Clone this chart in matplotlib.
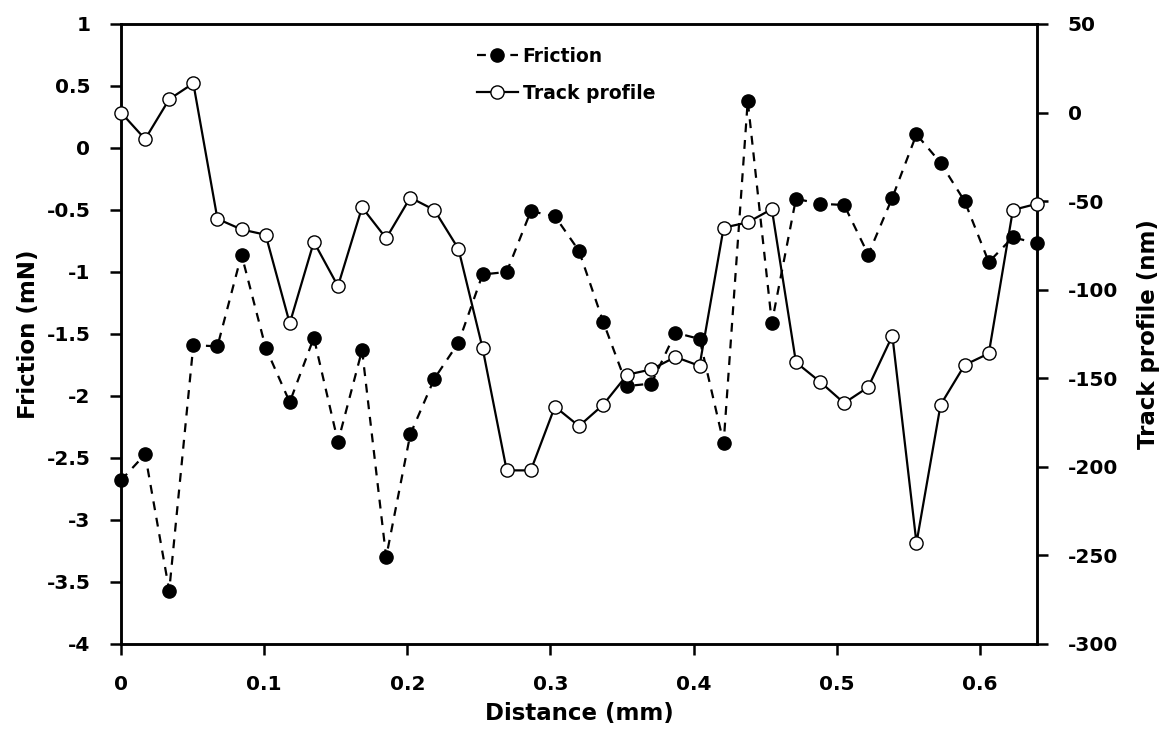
import numpy as np
import matplotlib
matplotlib.use("Agg")
import matplotlib.pyplot as plt
from matplotlib.lines import Line2D

plt.rcParams['font.family'] = ['DejaVu Sans']
plt.rcParams['font.weight'] = 'bold'
plt.rcParams['axes.unicode_minus'] = False

# sampling distance (mm), 39 points
distance = np.linspace(0, 0.64, 39)

friction = [-2.68, -2.47, -3.57, -1.59, -1.60, -0.86, -1.61, -2.05, -1.53, -2.37,
            -1.63, -3.30, -2.31, -1.86, -1.57, -1.02, -1.00, -0.51, -0.55, -0.83,
            -1.40, -1.92, -1.90, -1.49, -1.54, -2.38, 0.38, -1.41, -0.41, -0.45,
            -0.46, -0.86, -0.40, 0.11, -0.12, -0.43, -0.92, -0.72, -0.77]

track_profile = [0, -15, 7.5, 16.5, -60, -66, -69, -119, -73, -98,
                 -53.5, -71, -48, -55, -77, -133, -202, -202, -166, -177,
                 -165, -148, -145, -138, -143, -65, -62, -54.5, -141, -152,
                 -164, -155, -126, -243, -165, -142.5, -136, -55, -51.5]

x_ticks = [0, 0.1, 0.2, 0.3, 0.4, 0.5, 0.6]
x_ticklabels = ['0', '0.1', '0.2', '0.3', '0.4', '0.5', '0.6']
f_ticks = [-4, -3.5, -3, -2.5, -2, -1.5, -1, -0.5, 0, 0.5, 1]
f_ticklabels = ['-4', '-3.5', '-3', '-2.5', '-2', '-1.5', '-1', '-0.5', '0', '0.5', '1']
t_ticks = [-300, -250, -200, -150, -100, -50, 0, 50]

DASH = (0, (4, 3.5))

fig = plt.figure(figsize=(11.76, 7.42), dpi=100)
ax = fig.add_axes([0.1029, 0.1321, 0.7789, 0.8356])
ax2 = ax.twinx()

ax.plot(distance, friction, color='black', linestyle=DASH, linewidth=1.6,
        marker='o', markersize=9.5, markerfacecolor='black', markeredgecolor='black',
        clip_on=False, zorder=3)
ax2.plot(distance, track_profile, color='black', linestyle='-', linewidth=1.6,
         marker='o', markersize=9.5, markerfacecolor='white', markeredgecolor='black',
         markeredgewidth=1.0, clip_on=False, zorder=3)

ax.set_xlim(0, 0.64)
ax.set_ylim(-4, 1)
ax2.set_ylim(-300, 50)
ax.set_xticks(x_ticks)
ax.set_xticklabels(x_ticklabels)
ax.set_yticks(f_ticks)
ax.set_yticklabels(f_ticklabels)
ax2.set_yticks(t_ticks)

for a in (ax, ax2):
    for s in a.spines.values():
        s.set_linewidth(1.8)
    a.tick_params(direction='out', length=8, width=1.8, labelsize=14.5, pad=14)

ax.set_xlabel('Distance (mm)', fontsize=16.5, fontweight='bold', labelpad=6)
ax.set_ylabel('Friction (mN)', fontsize=16.5, fontweight='bold', labelpad=5)
ax2.set_ylabel('Track profile (nm)', fontsize=16.5, fontweight='bold', labelpad=14)

handles = [
    Line2D([], [], color='black', linestyle=DASH, linewidth=1.6, marker='o',
           markersize=9.5, markerfacecolor='black', markeredgecolor='black'),
    Line2D([], [], color='black', linestyle='-', linewidth=1.6, marker='o',
           markersize=9.5, markerfacecolor='white', markeredgecolor='black'),
]
leg = ax2.legend(handles, ['Friction', 'Track profile'], loc='upper left',
                 bbox_to_anchor=(0.37, 0.99), frameon=False, fontsize=13.5,
                 handlelength=2.2, handletextpad=0.25, labelspacing=0.95)

fig.savefig('out.png', dpi=100)
